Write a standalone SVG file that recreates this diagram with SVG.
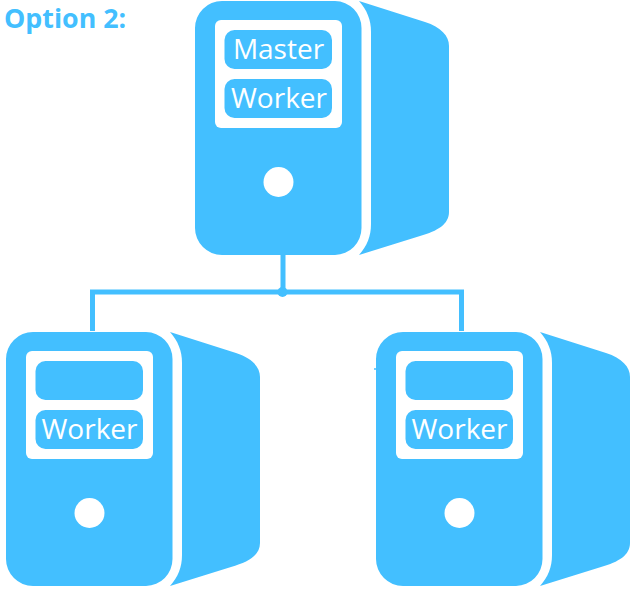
<svg xmlns="http://www.w3.org/2000/svg" width="634" height="590" viewBox="0 0 634 590">
<style>
.b{fill:#43bfff}
.w{fill:#fff}
.l{fill:#fff;font-family:"Open Sans","Noto Sans",sans-serif;font-size:28px;text-anchor:middle}
.t{fill:#43bfff;font-family:"Open Sans","Noto Sans",sans-serif;font-size:26.800px;font-weight:700}
.c{stroke:#43bfff;stroke-width:5;fill:none}
</style>
<defs>
<g id="tower">
<path class="b" d="M222 1H335A27 27 0 0 1 361.500 28V228A27 27 0 0 1 335 255H222A27 27 0 0 1 195 228V28A27 27 0 0 1 222 1Z"/>
<path class="b" d="M359 1L425 22C441 27 449 36 449 46V212C449 224 438 231 420 236L359 255C367 246 371 236 371 224V32C371 20 367 10 359 1Z"/>
<rect class="w" x="215" y="20" width="127" height="108" rx="6"/>
<rect class="b" x="224.500" y="30" width="107.500" height="39" rx="10"/>
<rect class="b" x="224.500" y="79" width="107.500" height="39" rx="10"/>
<circle class="w" cx="278.500" cy="182" r="15"/>
</g>
</defs>
<g id="connectors">
<path class="c" d="M283 255V292M92.500 331V292H461.500V331"/>
<circle class="b" cx="282.500" cy="292" r="5"/>
<path d="M374 369H377" stroke="#43bfff" stroke-width="1.500"/>
</g>
<text id="title" class="t" x="4" y="28">Option 2:</text>
<g id="master">
<use href="#tower"/>
<text class="l" x="278.500" y="59">Master</text>
<text class="l" x="279" y="108">Worker</text>
</g>
<g id="worker-left">
<use href="#tower" x="-189" y="331"/>
<text class="l" x="89.500" y="439">Worker</text>
</g>
<g id="worker-right">
<use href="#tower" x="181" y="331"/>
<text class="l" x="459.500" y="439">Worker</text>
</g>
</svg>
